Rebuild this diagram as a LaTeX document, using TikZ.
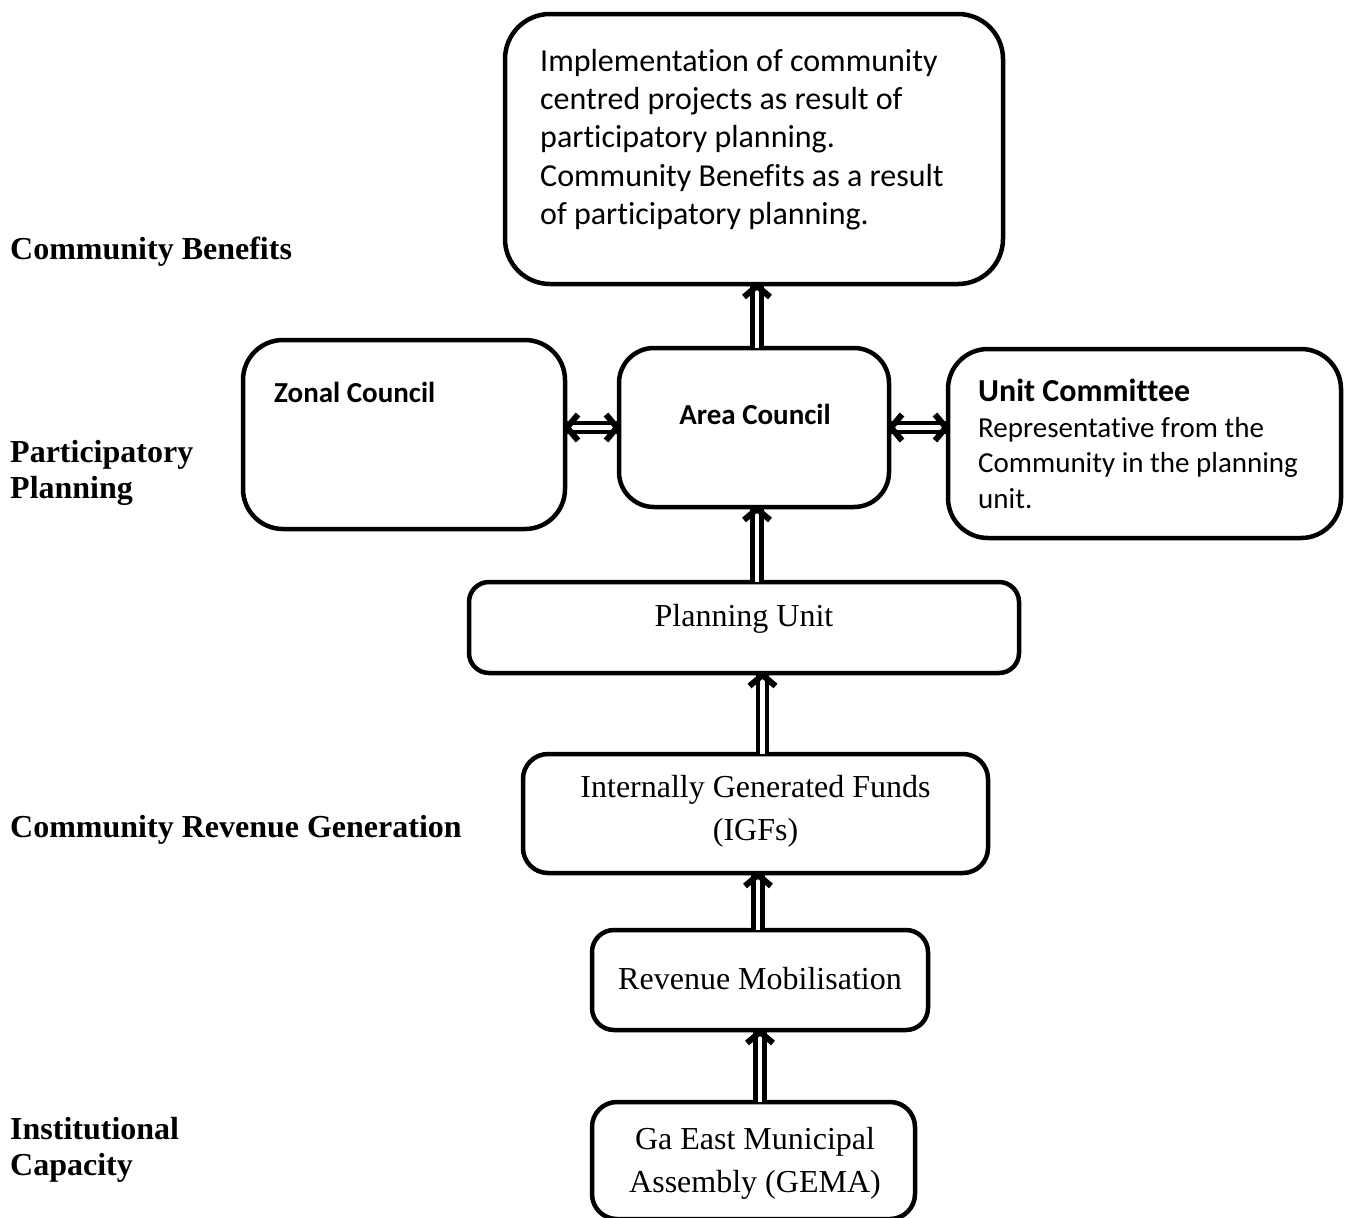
\documentclass[tikz,border=0pt]{standalone}
\usepackage{fontspec}
\setmainfont{Liberation Serif}
\newfontfamily\calfont[Ligatures=NoCommon]{Carlito}
\tikzset{
  box/.style={draw, line width=4.5pt, inner sep=0pt, outer sep=0pt},
  shaft/.style={double, double distance=4.5pt, line width=4.5pt},
  barb/.style={line width=6pt, line join=miter, miter limit=10},
  side/.style={font=\fontsize{32}{36.8}\selectfont\bfseries, anchor=base west, inner sep=0pt},
  tms/.style={font=\fontsize{32}{40}\selectfont, anchor=base, inner sep=0pt},
  calbig/.style={font=\calfont\fontsize{32}{38}\selectfont, anchor=base west, inner sep=0pt},
  calsm/.style={font=\calfont\fontsize{29}{35}\selectfont, anchor=base west, inner sep=0pt},
}
\begin{document}
\begin{tikzpicture}[x=1pt, y=-1pt]
\useasboundingbox (0,0) rectangle (1352,1218);
\clip (0,0) rectangle (1352,1218);
% boxes
\node[box, rounded corners=45pt, minimum width=498pt, minimum height=270pt] (top) at (754,149) {};
\node[box, rounded corners=40pt, minimum width=322pt, minimum height=189pt] (zonal) at (404,434.5) {};
\node[box, rounded corners=35pt, minimum width=270pt, minimum height=159pt] (area) at (754,427.5) {};
\node[box, rounded corners=40pt, minimum width=393pt, minimum height=189pt] (unit) at (1144.5,443.5) {};
\node[box, rounded corners=20pt, minimum width=550pt, minimum height=91pt] (plan) at (744,627.5) {};
\node[box, rounded corners=25pt, minimum width=465pt, minimum height=119pt] (igf) at (755.5,813.5) {};
\node[box, rounded corners=22pt, minimum width=336pt, minimum height=100pt] (rev) at (760,980) {};
\node[box, rounded corners=25pt, minimum width=323pt, minimum height=117pt] (gema) at (753.5,1160.5) {};
% texts in boxes
\node[calbig] (t1) at (540,71) {Implementation of community};
\node[calbig] (t2) at (540,109.3) {centred projects as result of};
\node[calbig] (t3) at (540,147.7) {participatory planning.};
\node[calbig] (t4) at (540,186) {Community Benefits as a result};
\node[calbig] (t5) at (540,224.3) {of participatory planning.};
\node[calsm, font=\calfont\fontsize{29}{35}\selectfont\bfseries] (zt) at (274,402) {Zonal Council};
\node[calsm, font=\calfont\fontsize{29}{35}\selectfont\bfseries, anchor=base] (at) at (755,424) {Area Council};
\node[calbig, font=\calfont\fontsize{32}{38}\selectfont\bfseries] (u1) at (978,401.7) {Unit Committee};
\node[calsm] (u2) at (978,437) {Representative from the};
\node[calsm] (u3) at (978,472) {Community in the planning};
\node[calsm] (u4) at (978,508) {unit.};
\node[tms] (pt) at (744,626) {Planning Unit};
\node[tms] (i1) at (755.5,797) {Internally Generated Funds};
\node[tms] (i2) at (755.5,840) {(IGFs)};
\node[tms] (rt) at (760,989) {Revenue Mobilisation};
\node[tms] (g1) at (755,1149) {Ga East Municipal};
\node[tms] (g2) at (755,1192) {Assembly (GEMA)};
% side labels
\node[side] (s1) at (10,259) {Community Benefits};
\node[side] (s2) at (10,462) {Participatory};
\node[side] (s3) at (10,498.5) {Planning};
\node[side] (s4) at (10,837) {Community Revenue Generation};
\node[side] (s5) at (10,1139) {Institutional};
\node[side] (s6) at (10,1175.5) {Capacity};
% connector end points
\coordinate (e1) at ([xshift=3pt]area.north |- top.south);
\coordinate (e2) at ([xshift=3pt]area.south);
\coordinate (e3) at ([xshift=7pt]igf.north |- plan.south);
\coordinate (e4) at ([xshift=-2pt]rev.north |- igf.south);
\coordinate (e5) at (rev.south);
\coordinate (hz) at (area.west -| zonal.east);
\coordinate (hu) at (area.east -| unit.west);
% shafts
\draw[shaft] ([xshift=3pt]area.north) -- (e1);
\draw[shaft] ([xshift=3pt]area.south |- plan.north) -- (e2);
\draw[shaft] ([xshift=7pt]igf.north) -- (e3);
\draw[shaft] ([xshift=-2pt]rev.north) -- (e4);
\draw[shaft] (gema.north -| rev.south) -- (e5);
\draw[shaft] (hz) -- (area.west);
\draw[shaft] (area.east) -- (hu);
% heads
\foreach \p in {e1,e2,e3,e4,e5}
  \draw[barb, shift={(\p)}] (-13,13) -- (0,2) -- (13,13);
\draw[barb, shift={(hz)}] (13,-13) -- (2,0) -- (13,13);
\draw[barb, shift={(area.west)}] (-13,-13) -- (-2,0) -- (-13,13);
\draw[barb, shift={(area.east)}] (13,-13) -- (2,0) -- (13,13);
\draw[barb, shift={(hu)}] (-13,-13) -- (-2,0) -- (-13,13);
\end{tikzpicture}
\end{document}
